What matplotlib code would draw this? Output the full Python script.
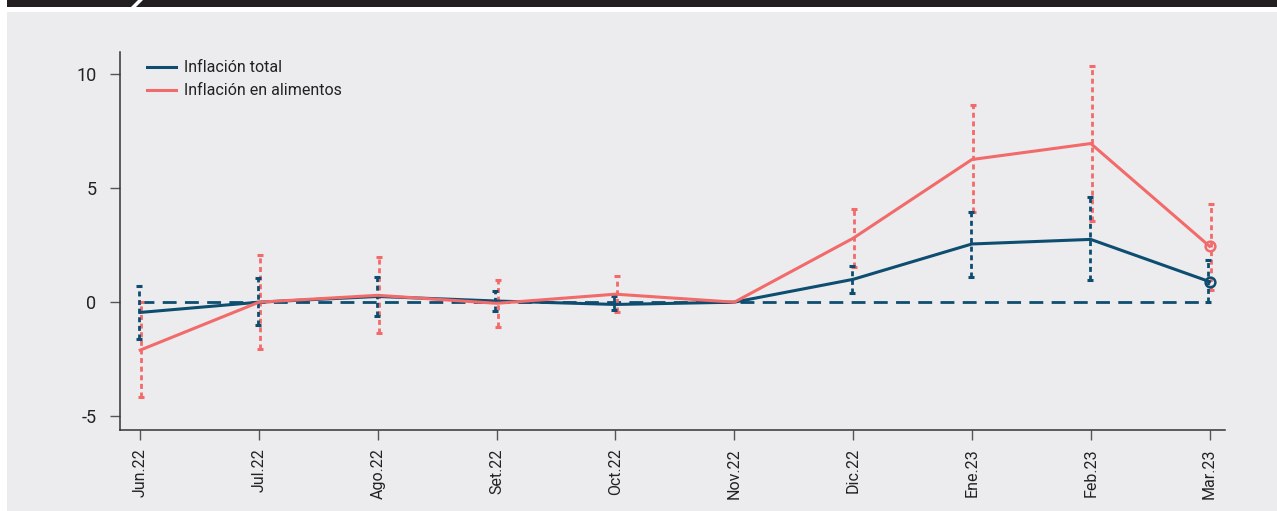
import numpy as np
import matplotlib
matplotlib.use('Agg')
import matplotlib.pyplot as plt
from matplotlib.patches import Rectangle, Polygon

plt.rcParams['font.family'] = ['Roboto', 'DejaVu Sans']

meses = ['Jun.22', 'Jul.22', 'Ago.22', 'Set.22', 'Oct.22', 'Nov.22',
         'Dic.22', 'Ene.23', 'Feb.23', 'Mar.23']

# Inflacion total: estimado y bandas
total = [-0.45, 0.0, 0.25, 0.05, -0.1, 0.0, 1.0, 2.55, 2.75, 0.9]
total_sup = [0.7, 1.05, 1.1, 0.5, 0.25, np.nan, 1.6, 3.95, 4.6, 1.85]
total_inf = [-1.6, -1.0, -0.6, -0.4, -0.35, np.nan, 0.4, 1.1, 0.95, 0.0]

# Inflacion en alimentos
alim = [-2.1, 0.0, 0.3, -0.05, 0.35, 0.0, 2.8, 6.25, 6.95, 2.45]
alim_sup = [0.0, 2.05, 2.0, 0.95, 1.15, np.nan, 4.1, 8.65, 10.35, 4.3]
alim_inf = [-4.15, -2.05, -1.35, -1.1, -0.45, np.nan, 1.55, 3.95, 3.55, 0.55]

c_total = '#0d4e70'
c_alim = '#f26a6a'
c_bg = '#ececee'

fig = plt.figure(figsize=(12.77, 5.11), dpi=100)
fig.patch.set_facecolor('white')

# fondo gris y banda superior
fig.patches.append(Rectangle((7 / 1277, 0), 1 - 7 / 1277, 1 - 12 / 511,
                             transform=fig.transFigure, facecolor=c_bg,
                             edgecolor='none', zorder=-10))
fig.patches.append(Rectangle((7 / 1277, 1 - 7 / 511), 1 - 7 / 1277, 7 / 511,
                             transform=fig.transFigure, facecolor='#231f20',
                             edgecolor='none', zorder=-9))
fig.patches.append(Polygon([(131 / 1277, 1 - 7 / 511), (136 / 1277, 1 - 7 / 511),
                            (143 / 1277, 1.0), (138 / 1277, 1.0)], closed=True,
                           transform=fig.transFigure, facecolor='white',
                           edgecolor='none', zorder=-8))

ax = fig.add_axes([120 / 1277, 1 - 430 / 511, 1105 / 1277, 378 / 511])
ax.set_facecolor('none')

x = np.arange(len(meses))


def bandas(vals, sup, inf, color, dx):
    sup = np.array(sup)
    inf = np.array(inf)
    ok = ~np.isnan(sup)
    ax.vlines(x[ok] + dx, inf[ok], sup[ok], colors=color, linestyles=(0, (1.8, 1.3)),
              linewidth=2.0, zorder=3)
    for yy in (sup[ok], inf[ok]):
        ax.plot(x[ok] + dx, yy, linestyle='none', marker='_', markersize=5,
                markeredgewidth=2.2, color=color, zorder=3)


bandas(alim, alim_sup, alim_inf, c_alim, 0.01)
bandas(total, total_sup, total_inf, c_total, -0.01)

ax.plot(x, np.zeros(len(x)), color=c_total, linewidth=2, linestyle=(0, (5, 3)), zorder=2)

ax.plot(x, total, color=c_total, linewidth=2.2, label='Inflación total', zorder=4)
ax.plot(x, alim, color=c_alim, linewidth=2.2, label='Inflación en alimentos', zorder=4)
ax.plot(x[-1:], total[-1:], linestyle='none', marker='o', markersize=7,
        markerfacecolor='none', markeredgewidth=1.8, color=c_total, zorder=5)
ax.plot(x[-1:], alim[-1:], linestyle='none', marker='o', markersize=7,
        markerfacecolor='none', markeredgewidth=1.8, color=c_alim, zorder=5)

ax.set_xlim(-0.17, 9.13)
ax.set_ylim(-5.6, 10.96)
ax.set_yticks([10, 5, 0, -5])
ax.set_yticklabels(['10', '5', '0', '-5'])
ax.set_xticks(x)
ax.set_xticklabels(meses, rotation=90)

for s in ('top', 'right'):
    ax.spines[s].set_visible(False)
for s in ('left', 'bottom'):
    ax.spines[s].set_color('#333333')
    ax.spines[s].set_linewidth(1.1)
ax.tick_params(axis='both', colors='#555555', labelcolor='#222222',
               length=7, width=1)
ax.tick_params(axis='y', pad=10, labelsize=13)
ax.tick_params(axis='x', pad=6, labelsize=11.5)

leg = ax.legend(loc='upper left', frameon=False, fontsize=11.5, handlelength=1.8,
                handletextpad=0.5, labelspacing=0.5, bbox_to_anchor=(0.0244, 0.978),
                borderaxespad=0, borderpad=0)
for t in leg.get_texts():
    t.set_color('#222222')

fig.savefig('out.png', dpi=100, facecolor='white')
